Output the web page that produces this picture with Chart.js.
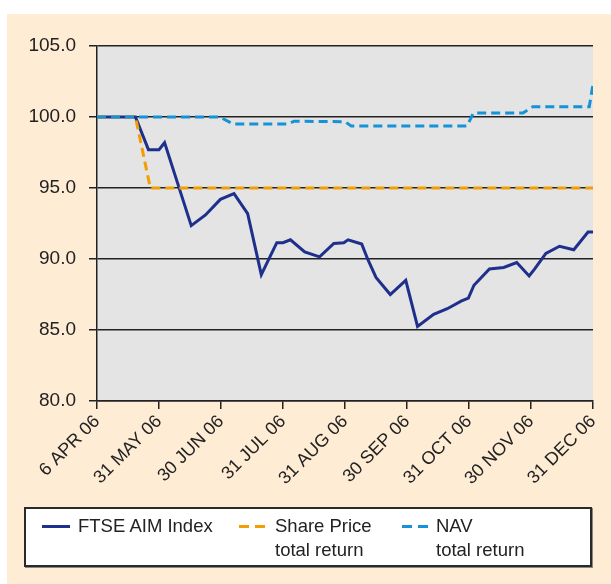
<!DOCTYPE html>
<html>
<head>
<meta charset="utf-8">
<script src="https://cdn.jsdelivr.net/npm/chart.js@4"></script>
<style>
  body { margin: 0; background: #fff; font-family: "Liberation Sans", Arial, sans-serif; }
  #wrap { position: relative; width: 611px; height: 584px; overflow: hidden; }
  #cream { position: absolute; left: 7px; top: 14px; width: 604px; height: 570px; background: #feecd5; }
  #chart { position: absolute; left: 0; top: 0; }
  #legend { position: absolute; left: 24px; top: 507px; width: 564px; height: 56px; background: #fff;
            border: 2px solid #2a2a2a; box-shadow: 1px 1px 0 #888; color: #222; font-size: 18.5px; }
  .item { position: absolute; top: 5px; line-height: 24px; }
  .swatch { position: absolute; top: 16px; height: 0; }
</style>
</head>
<body>
<div id="wrap">
  <div id="cream"></div>
  <canvas id="chart" width="611" height="584"></canvas>
  <div id="legend">
    <div class="swatch" style="left:16px;width:28px;border-top:3px solid #1e2f8c"></div>
    <div class="item" style="left:52px">FTSE AIM Index</div>
    <div class="swatch" style="left:213px;width:10px;border-top:3px solid #f29f05"></div>
    <div class="swatch" style="left:229px;width:10px;border-top:3px solid #f29f05"></div>
    <div class="item" style="left:249px">Share Price<br>total return</div>
    <div class="swatch" style="left:376px;width:10px;border-top:3px solid #1592d8"></div>
    <div class="swatch" style="left:392px;width:10px;border-top:3px solid #1592d8"></div>
    <div class="item" style="left:410px">NAV<br>total return</div>
  </div>
</div>
<script>
// tick labels (equally spaced positions 0..8)
const dateLabels = ['6 APR 06', '31 MAY 06', '30 JUN 06', '31 JUL 06', '31 AUG 06',
                    '30 SEP 06', '31 OCT 06', '30 NOV 06', '31 DEC 06'];

// FTSE AIM Index
const ftseX = [0, 0.62, 0.83, 1.0, 1.09, 1.52, 1.75, 1.99, 2.21, 2.43, 2.65, 2.90, 3.0, 3.12, 3.35,
               3.59, 3.82, 3.98, 4.05, 4.27, 4.37, 4.50, 4.73, 4.98, 5.17, 5.43, 5.65, 5.88, 5.99,
               6.08, 6.33, 6.56, 6.77, 6.97, 7.06, 7.24, 7.46, 7.69, 7.92, 8.0];
const ftseY = [100, 100, 97.7, 97.7, 98.2, 92.35, 93.1, 94.2, 94.6, 93.2, 88.9, 91.15, 91.15, 91.35, 90.5,
               90.15, 91.1, 91.15, 91.35, 91.05, 89.95, 88.7, 87.5, 88.5, 85.25, 86.1, 86.5, 87.05, 87.25,
               88.15, 89.3, 89.4, 89.75, 88.8, 89.3, 90.4, 90.9, 90.65, 91.9, 91.9];

// Share Price total return
const shareX = [0, 0.62, 0.86, 8.0];
const shareY = [100, 100, 95, 95];

// NAV total return
const navX = [0, 1.98, 2.2, 3.08, 3.18, 4.0, 4.1, 5.97, 6.07, 6.87, 7.03, 7.94, 8.0];
const navY = [100, 100, 99.5, 99.5, 99.7, 99.67, 99.37, 99.37, 100.28, 100.28, 100.73, 100.73, 102.3];

function pts(xs, ys) {
    return xs.map(function (x, i) { return { x: x, y: ys[i] }; });
}

// fundo cinza da área do gráfico
const plotBg = {
    id: 'plotBg',
    beforeDraw: function (chart) {
        const a = chart.chartArea;
        const ctx = chart.ctx;
        ctx.save();
        ctx.fillStyle = '#e3e4e3';
        ctx.fillRect(a.left, a.top, a.right - a.left, a.bottom - a.top);
        ctx.restore();
    }
};

const ink = '#222';

new Chart(document.getElementById('chart').getContext('2d'), {
    type: 'line',
    data: {
        datasets: [
            { label: 'FTSE AIM Index', data: pts(ftseX, ftseY), borderColor: '#1e2f8c',
              borderWidth: 3, order: 3 },
            { label: 'Share Price total return', data: pts(shareX, shareY), borderColor: '#f29f05',
              borderWidth: 3, borderDash: [9, 5], order: 2 },
            { label: 'NAV total return', data: pts(navX, navY), borderColor: '#1592d8',
              borderWidth: 3, borderDash: [9, 5], order: 1 }
        ]
    },
    options: {
        responsive: false,
        animation: false,
        layout: { padding: { left: 0, top: 46, right: 18, bottom: 0 } },
        elements: { point: { radius: 0 }, line: { tension: 0, fill: false } },
        plugins: { legend: { display: false }, tooltip: { enabled: false } },
        scales: {
            x: {
                type: 'linear', min: 0, max: 8,
                afterFit: function (s) { s.height = 183; },
                border: { display: true, color: ink, width: 1.5 },
                grid: { drawOnChartArea: false, drawTicks: true, tickLength: 8, color: ink, lineWidth: 1.5 },
                ticks: {
                    stepSize: 1, autoSkip: false, maxRotation: 45, minRotation: 45, padding: 2,
                    color: ink, font: { family: 'Liberation Sans', size: 18 },
                    callback: function (v) { return dateLabels[v]; }
                }
            },
            y: {
                min: 80, max: 105,
                afterFit: function (s) { s.width = 97; },
                border: { display: true, color: ink, width: 1.5 },
                grid: { color: ink, lineWidth: 1.5, tickLength: 8 },
                ticks: {
                    stepSize: 5, padding: 13, color: ink,
                    font: { family: 'Liberation Sans', size: 19 },
                    callback: function (v) { return v.toFixed(1); }
                }
            }
        }
    },
    plugins: [plotBg]
});
</script>
</body>
</html>
